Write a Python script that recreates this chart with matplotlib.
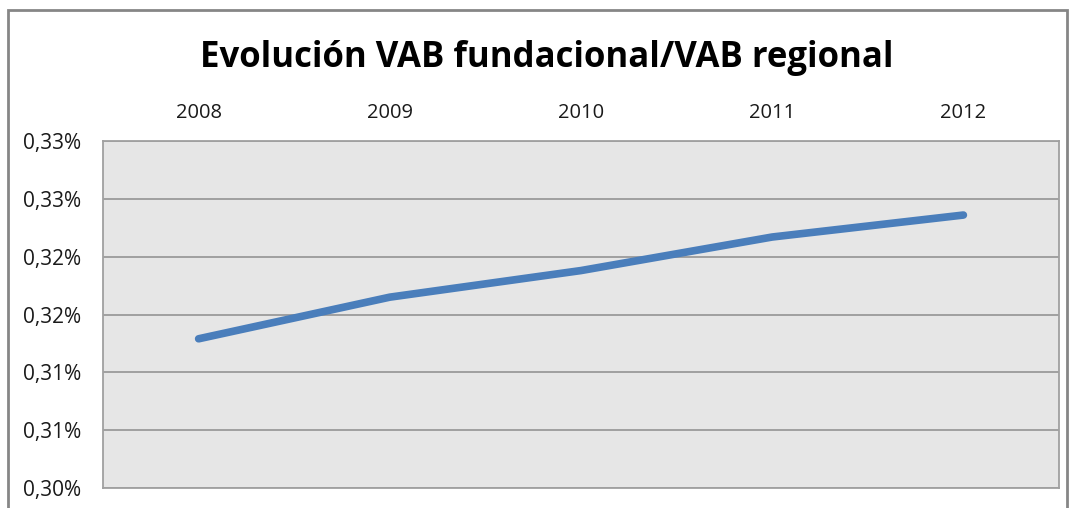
import matplotlib.pyplot as plt
from matplotlib.patches import Rectangle
from matplotlib.ticker import FuncFormatter
from decimal import Decimal, ROUND_HALF_UP

years = ["2008", "2009", "2010", "2011", "2012"]
ratio = [0.3129, 0.3165, 0.3188, 0.3217, 0.3236]  # VAB fundacional / VAB regional, %
y_ticks = [0.300, 0.305, 0.310, 0.315, 0.320, 0.325, 0.330]

plt.rcParams["font.family"] = ["Open Sans", "DejaVu Sans"]


def pct_fmt(v, pos):
    # Excel-style rounding: 0,305 -> 0,31
    d = Decimal(str(round(v, 4))).quantize(Decimal("0.01"), rounding=ROUND_HALF_UP)
    return str(d).replace(".", ",") + "%"


fig = plt.figure(figsize=(10.7, 5.08), dpi=100)
ax = fig.add_axes([0.0963, 0.0394, 0.8934, 0.6830])

# outer chart frame (bottom edge is cut off in the original)
fig.patches.append(Rectangle((8 / 1070, -0.05), 1059 / 1070, 1.05 - 10 / 508,
                             transform=fig.transFigure, fill=False,
                             edgecolor="#868686", linewidth=2))

x = range(len(years))
ax.set_facecolor("#e6e6e6")
ax.plot(x, ratio, color="#4a7ebb", linewidth=5.5, solid_capstyle="round",
        solid_joinstyle="round")

ax.set_xlim(-0.5, len(years) - 0.5)
ax.set_ylim(y_ticks[0], y_ticks[-1])
ax.set_yticks(y_ticks)
ax.yaxis.set_major_formatter(FuncFormatter(pct_fmt))
ax.grid(axis="y", color="#9a9a9a", linewidth=1.3)
ax.set_axisbelow(True)

ax.set_xticks(list(x))
ax.set_xticklabels(years)
ax.xaxis.tick_top()
ax.tick_params(axis="both", length=0, colors="#1a1a1a")
ax.tick_params(axis="x", pad=13, labelsize=14.5)
ax.tick_params(axis="y", pad=16, labelsize=15)

for s in ax.spines.values():
    s.set_color("#a0a0a0")
    s.set_linewidth(1.3)

fig.text(0.511, 0.885, "Evolución VAB fundacional/VAB regional", ha="center",
         va="center", fontsize=25, fontweight="bold")

fig.savefig("out.png", dpi=100)
